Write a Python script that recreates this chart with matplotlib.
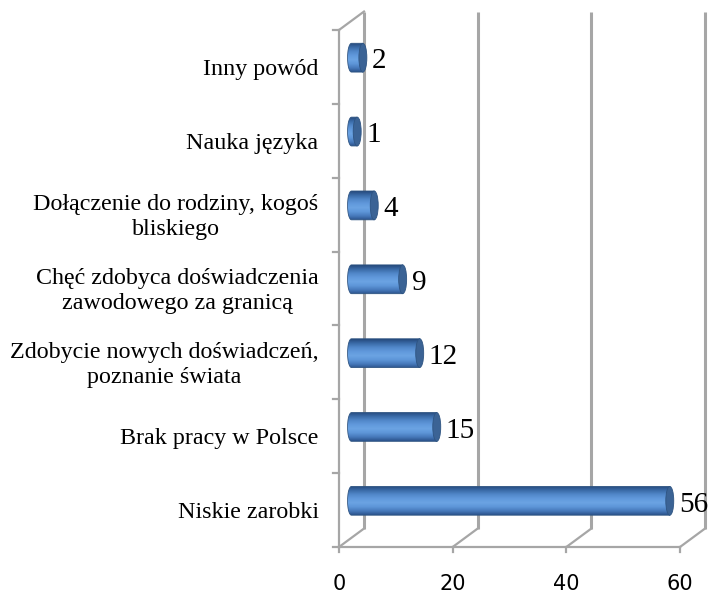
import matplotlib.pyplot as plt
import numpy as np
from matplotlib.patches import Ellipse, Polygon

categories = [
    "Niskie zarobki",
    "Brak pracy w Polsce",
    "Zdobycie nowych doświadczeń,\npoznanie świata",
    "Chęć zdobyca doświadczenia\nzawodowego za granicą",
    "Dołączenie do rodziny, kogoś\nbliskiego",
    "Nauka języka",
    "Inny powód",
]
values = [56, 15, 12, 9, 4, 1, 2]
x_ticks = [0, 20, 40, 60]

# depth offset of the 3D box (data units)
DX = 4.4
DY = 0.25
BAR_H = 0.39
CAP_W = 1.4
GRID = "#A6A6A6"

fig = plt.figure(figsize=(7.09, 5.94), dpi=100)
ax = fig.add_axes([339 / 709, 47 / 594, (680 - 339) / 709, (547 - 30) / 594])
ax.set_xlim(0, 60)
ax.set_ylim(-0.5, len(categories) - 0.5)
ax.axis("off")

top = len(categories) - 0.5
bot = -0.5

# back wall gridlines
for t in x_ticks:
    ax.plot([t + DX, t + DX], [bot + DY, top + DY], color=GRID, lw=2.2,
            clip_on=False, solid_capstyle="butt")
# floor
ax.plot([0, 60], [bot, bot], color=GRID, lw=1.6, clip_on=False)
for t in x_ticks:
    ax.plot([t, t + DX], [bot, bot + DY], color=GRID, lw=1.6, clip_on=False)
    ax.plot([t, t], [bot, bot - 0.07], color=GRID, lw=1.6, clip_on=False)
    ax.text(t, bot - 0.37, str(t), ha="center", va="top", fontsize=15,
            family="DejaVu Sans", clip_on=False)
# left wall
ax.plot([0, 0], [bot, top], color=GRID, lw=1.6, clip_on=False)
ax.plot([0, DX], [top, top + DY], color=GRID, lw=1.6, clip_on=False)
for k in range(len(categories) + 1):
    ax.plot([-1.1, 0], [bot + k, bot + k], color=GRID, lw=1.6, clip_on=False)

# cylinder gradient (dark edges, lighter upper middle)
grad = np.array([
    [0.17, 0.33, 0.55],
    [0.28, 0.48, 0.74],
    [0.37, 0.59, 0.85],
    [0.42, 0.64, 0.89],
    [0.38, 0.60, 0.86],
    [0.32, 0.53, 0.79],
    [0.23, 0.42, 0.66],
    [0.15, 0.29, 0.49],
])
pos = np.linspace(0, len(grad) - 1, 64)
rows = np.stack([np.interp(pos, np.arange(len(grad)), grad[:, c]) for c in range(3)], axis=1)
rows = rows[:, None, :]

for i, (lab, v) in enumerate(zip(categories, values)):
    yc = i + DY / 2
    x0 = DX / 2
    x1 = v + DX / 2
    y0, y1 = yc - BAR_H / 2, yc + BAR_H / 2
    th = np.linspace(np.pi / 2, 3 * np.pi / 2, 30)
    arc = [(x0 + CAP_W / 2 * np.cos(t), yc + BAR_H / 2 * np.sin(t)) for t in th]
    path_pts = [(x0, y0), (x1, y0), (x1, y1), (x0, y1)] + arc[1:]
    body = Polygon(path_pts, closed=True, facecolor="none", edgecolor="none")
    ax.add_patch(body)
    im = ax.imshow(rows, extent=[x0 - CAP_W / 2, x1, y0, y1], aspect="auto",
                   origin="lower", zorder=3, interpolation="bilinear")
    im.set_clip_path(body)
    ax.add_patch(Polygon(path_pts, closed=True, facecolor="none",
                         edgecolor="#2E5482", lw=0.6, zorder=4))
    cap = Ellipse((x1, yc), CAP_W, BAR_H, facecolor="#3B6395",
                  edgecolor="#2E5482", lw=0.6, zorder=5)
    ax.add_patch(cap)
    ax.text(x1 + CAP_W / 2 + 0.9, yc - 0.05, str(v), ha="left", va="center",
            fontsize=21, family="Liberation Serif", zorder=6)
    ax.text(-3.6, i - 0.03, lab, ha="right", va="center", multialignment="center",
            fontsize=17.3, family="Liberation Serif", linespacing=1.25)

fig.savefig("out.png", dpi=100)
